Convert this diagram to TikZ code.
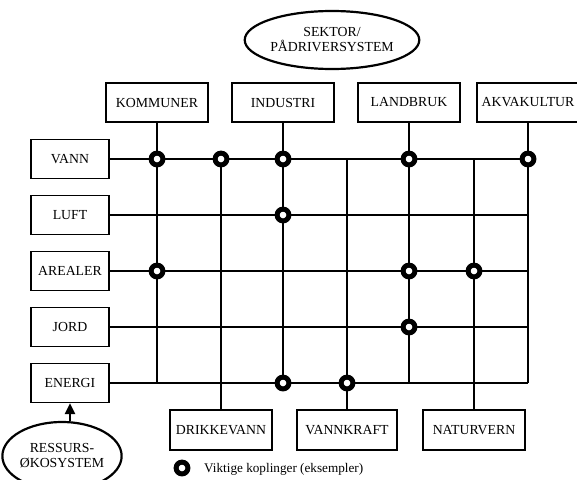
\documentclass[tikz,border=0pt]{standalone}
\usepackage{fontspec}
\setmainfont{Liberation Serif}
\usetikzlibrary{shapes.geometric,arrows.meta}
\begin{document}
\begin{tikzpicture}[x=1pt,y=-1pt,
  txt/.style={font=\fontsize{13.8}{15}\selectfont},
  box/.style={draw,line width=1.3pt,minimum width=102pt,minimum height=39pt,inner sep=0pt,txt},
  lbox/.style={box,minimum width=78pt},
  oval/.style={draw,ellipse,line width=2.2pt,inner sep=0pt,align=center,txt},
  wire/.style={line width=1.1pt},
  knot/.style={circle,draw,fill=white,line width=5pt,minimum size=11.8pt,inner sep=0pt}]
\useasboundingbox (0,0) rectangle (577,479);
% ellipses
\node[oval,minimum width=168pt,minimum height=58pt] (sek) at (332,40) {SEKTOR/\\PÅDRIVERSYSTEM};
\node[oval,minimum width=108pt,minimum height=68pt] (res) at (62,456) {RESSURS-\\ØKOSYSTEM};
% top boxes
\node[box] (komm) at (157,102.5) {KOMMUNER};
\node[box] (ind) at (283,102.5) {INDUSTRI};
\node[box] (land) at (409,102.5) {LANDBRUK};
\node[box] (akv) at (528,102.5) {AKVAKULTUR};
% left boxes
\node[lbox] (vann) at (70,159) {VANN};
\node[lbox] (luft) at (70,215) {LUFT};
\node[lbox] (areal) at (70,271) {AREALER};
\node[lbox] (jord) at (70,327) {JORD};
\node[lbox] (energi) at (70,383) {ENERGI};
% bottom boxes
\node[box,minimum height=40pt] (drikke) at (221,430) {DRIKKEVANN};
\node[box,minimum height=40pt,minimum width=100pt] (vkraft) at (347,430) {VANNKRAFT};
\node[box,minimum height=40pt] (natur) at (474,430) {NATURVERN};
% rows
\foreach \r in {vann,luft,areal,jord,energi}
  \draw[wire] (\r.east) -- (\r.east -| akv);
% columns
\foreach \c in {komm,ind,land,akv}
  \draw[wire] (\c.south) -- (\c |- energi);
\foreach \c in {drikke,vkraft,natur}
  \draw[wire] (\c.north) -- (\c |- vann);
% arrow
\draw[line width=2.8pt,-{Triangle[length=11pt,width=10pt]}] (energi |- res.north) -- (energi.south);
% knots
\node[knot] (k1) at (komm |- vann) {};
\node[knot] (k2) at (drikke |- vann) {};
\node[knot] (k3) at (ind |- vann) {};
\node[knot] (k4) at (land |- vann) {};
\node[knot] (k5) at (akv |- vann) {};
\node[knot] (k6) at (ind |- luft) {};
\node[knot] (k7) at (komm |- areal) {};
\node[knot] (k8) at (land |- areal) {};
\node[knot] (k9) at (natur |- areal) {};
\node[knot] (k10) at (land |- jord) {};
\node[knot] (k11) at (ind |- energi) {};
\node[knot] (k12) at (vkraft |- energi) {};
% legend
\node[knot] (leg) at (182,468) {};
\node[font=\fontsize{13.2}{15}\selectfont,anchor=base west,inner sep=0pt] (legt) at (204,472.5) {Viktige koplinger (eksempler)};
\end{tikzpicture}
\end{document}
